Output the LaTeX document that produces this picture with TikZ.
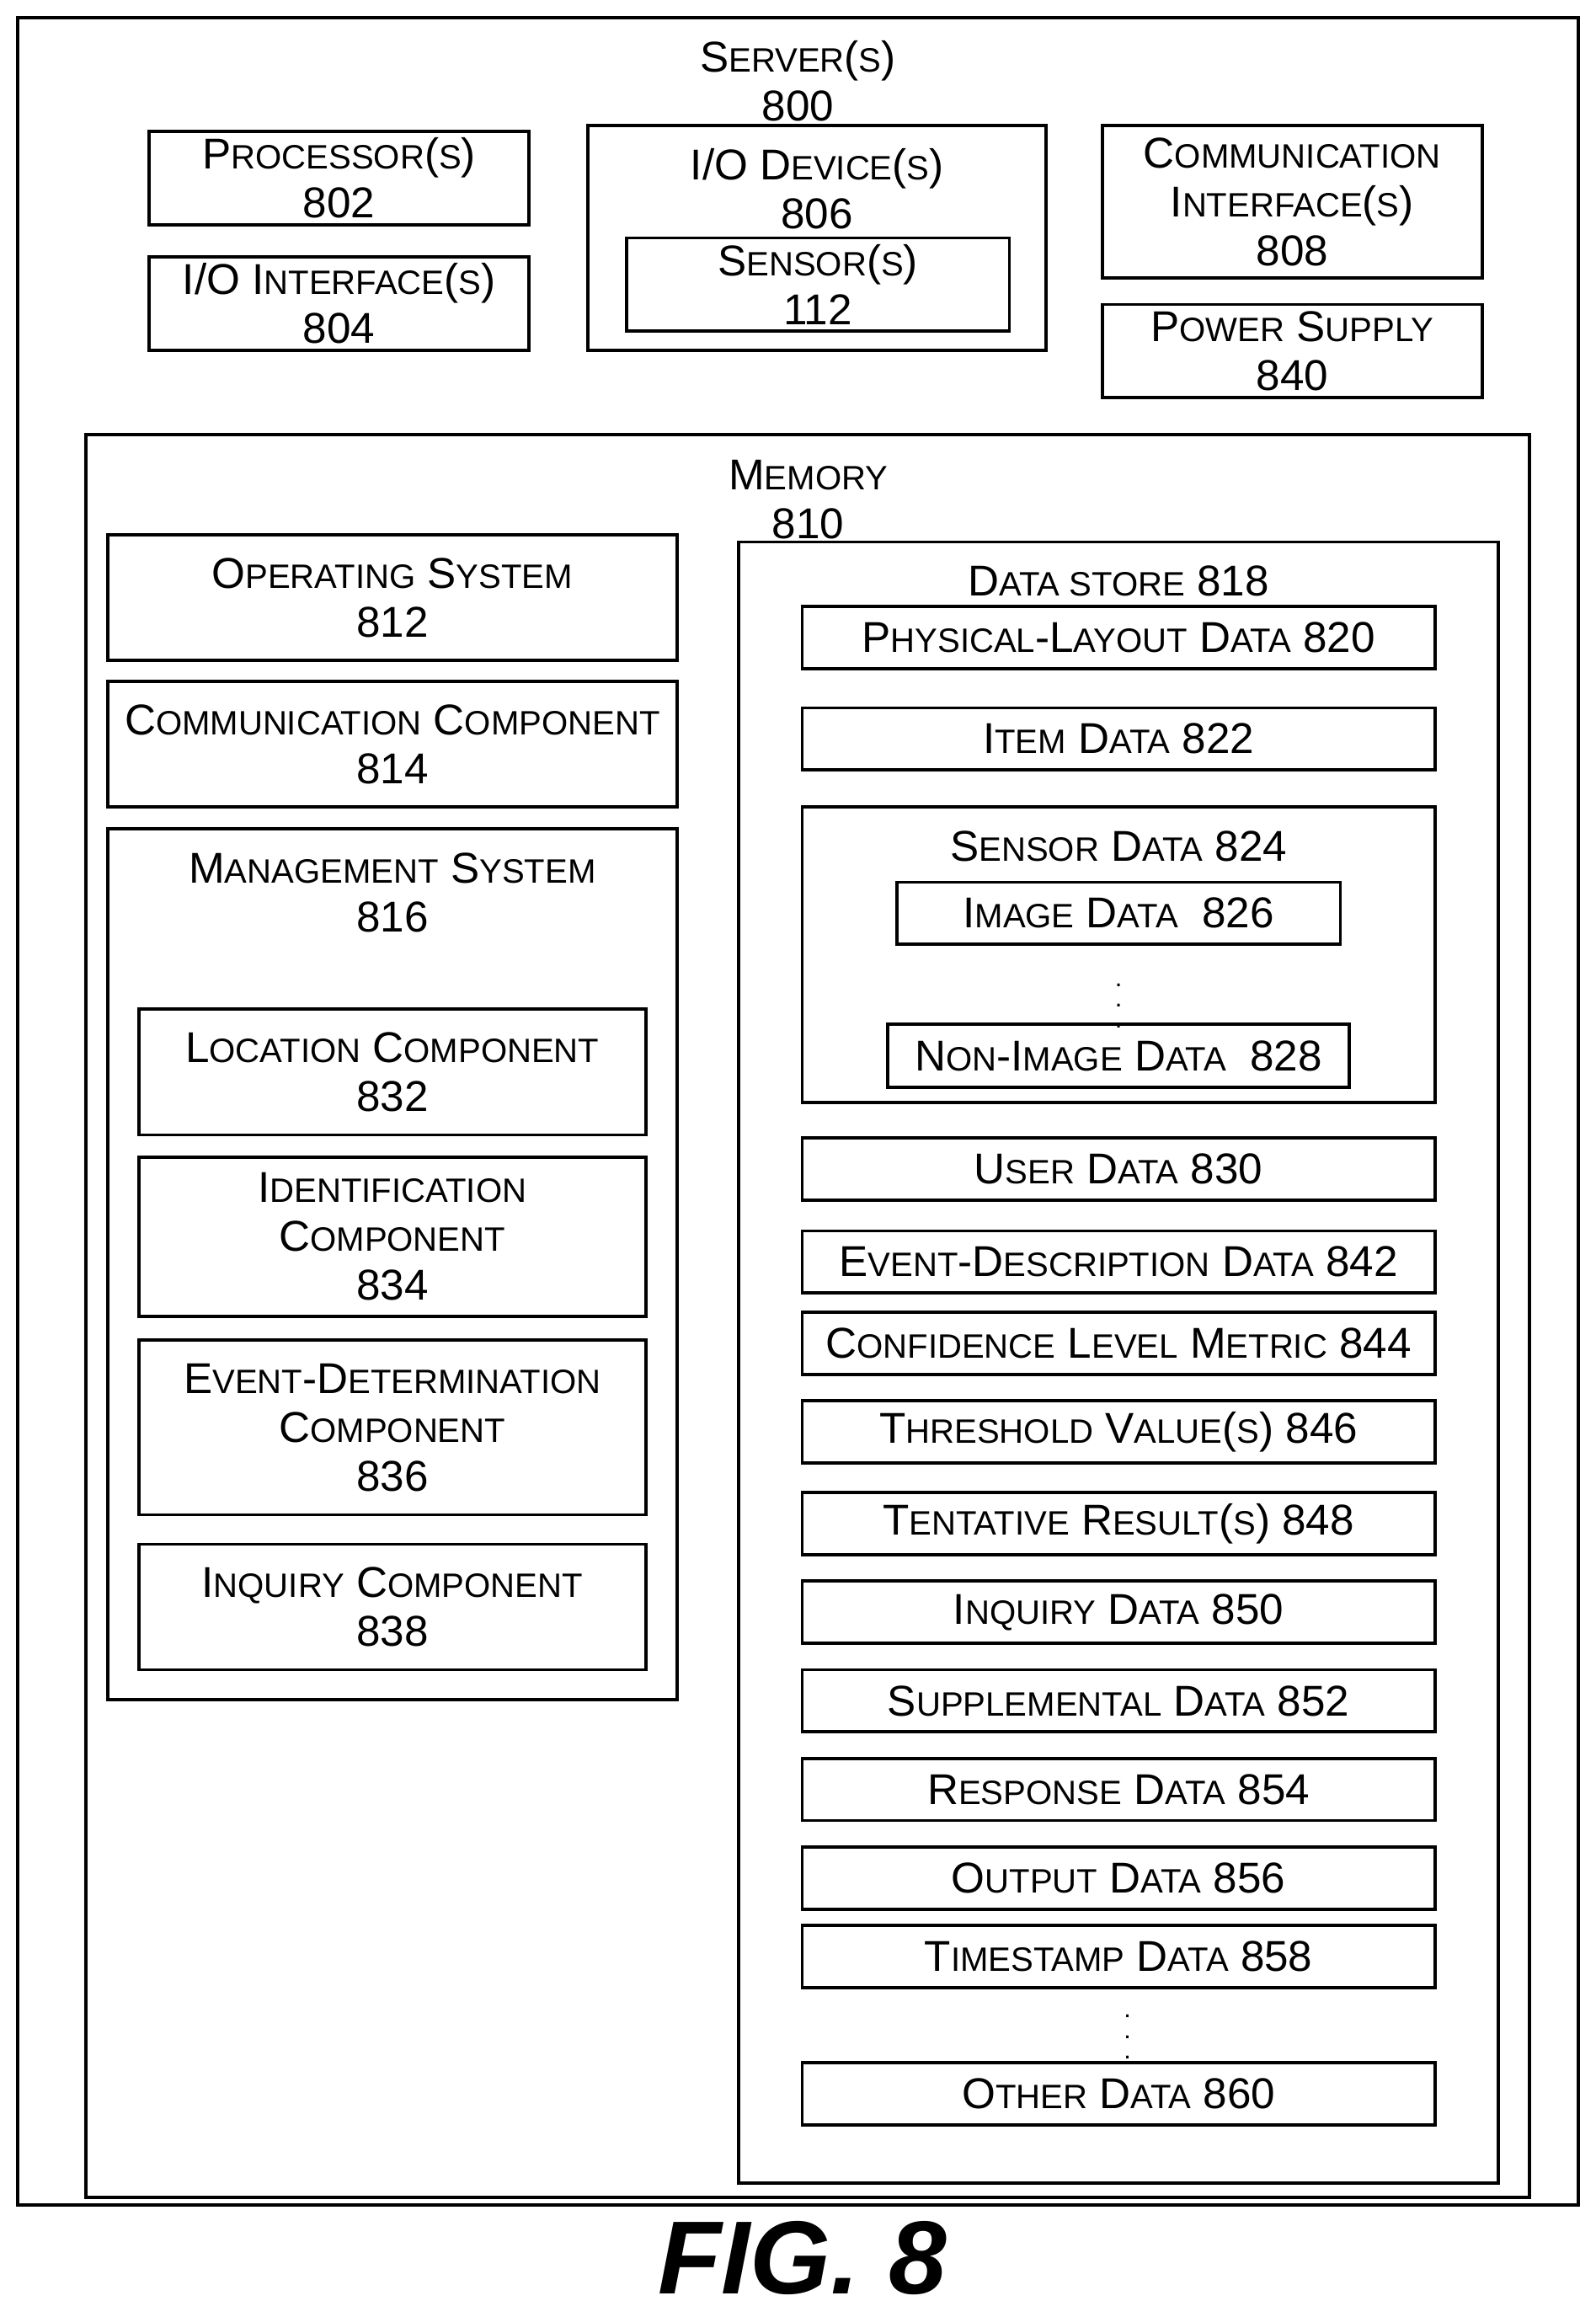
\documentclass[tikz,border=0pt]{standalone}
\usepackage{fontspec}
\setmainfont{Liberation Sans}
\usetikzlibrary{positioning}
\newcommand{\sm}[1]{{\fontsize{6.5}{9.4}\selectfont #1}}
\tikzset{
  box/.style={draw=black, line width=0.6pt, inner sep=0pt, align=center,
    font=\fontsize{8.3}{9.4}\selectfont},
  lbl/.style={inner sep=0pt, align=center, font=\fontsize{8.3}{9.4}\selectfont},
  dots/.style={inner sep=0pt, font=\fontsize{5}{5}\selectfont},
  dbox/.style={box, minimum width=4.28cm, minimum height=0.42cm}
}
\begin{document}
\begin{tikzpicture}[x=0.01cm, y=-0.01cm]
    \useasboundingbox (0,0) rectangle (1080,1568);
    %Server
    \draw[line width=0.6pt] (12,12) rectangle (1068,1492);
    \node[lbl] (server) at (540,55) {S\sm{ERVER}(\sm{S})\\800};
    \node[box, minimum width=2.57cm, minimum height=0.63cm] (proc) at (229.5,120.5) {P\sm{ROCESSOR}(\sm{S})\\802};
    \node[box, minimum width=2.57cm, minimum height=0.63cm] (ioif) at (229.5,205.5) {I/O I\sm{NTERFACE}(\sm{S})\\804};
    \node[box, minimum width=3.10cm, minimum height=1.52cm] (iodev) at (553,161) {};
    \node[lbl] (iodevl) at (553,128) {I/O D\sm{EVICE}(\sm{S})\\806};
    \node[box, minimum width=2.59cm, minimum height=0.63cm] (sensor) at (553.5,192.5) {S\sm{ENSOR}(\sm{S})\\112};
    \node[box, minimum width=2.57cm, minimum height=1.03cm] (commif) at (874.5,136.5) {C\sm{OMMUNICATION}\\I\sm{NTERFACE}(\sm{S})\\808};
    \node[box, minimum width=2.57cm, minimum height=0.63cm] (power) at (874.5,237.5) {P\sm{OWER} S\sm{UPPLY}\\840};
    %Memory
    \draw[line width=0.6pt] (58,294) rectangle (1035,1487);
    \node[lbl] (memory) at (547,338) {M\sm{EMORY}\\810};
    \node[box, minimum width=3.85cm, minimum height=0.85cm] (os) at (265.5,404.5) {O\sm{PERATING} S\sm{YSTEM}\\812};
    \node[box, minimum width=3.85cm, minimum height=0.85cm] (commc) at (265.5,503.5) {C\sm{OMMUNICATION} C\sm{OMPONENT}\\814};
    \node[box, minimum width=3.85cm, minimum height=5.89cm] (mgmt) at (265.5,855.5) {};
    \node[lbl] (mgmtl) at (265.5,604) {M\sm{ANAGEMENT} S\sm{YSTEM}\\816};
    \node[box, minimum width=3.43cm, minimum height=0.85cm] (loc) at (265.5,725.5) {L\sm{OCATION} C\sm{OMPONENT}\\832};
    \node[box, minimum width=3.43cm, minimum height=1.08cm] (ident) at (265.5,837) {I\sm{DENTIFICATION}\\C\sm{OMPONENT}\\834};
    \node[box, minimum width=3.43cm, minimum height=1.18cm] (event) at (265.5,966) {E\sm{VENT}-D\sm{ETERMINATION}\\C\sm{OMPONENT}\\836};
    \node[box, minimum width=3.43cm, minimum height=0.85cm] (inq) at (265.5,1087.5) {I\sm{NQUIRY} C\sm{OMPONENT}\\838};
    %Data store
    \node[box, minimum width=5.14cm, minimum height=11.10cm] (store) at (757,922) {};
    \node[lbl] (storel) at (757,393) {D\sm{ATA STORE} 818};
    \node[dbox] (phys) at (757,431.5) {P\sm{HYSICAL}-L\sm{AYOUT} D\sm{ATA} 820};
    \node[dbox] (item) at (757,500) {I\sm{TEM} D\sm{ATA} 822};
    \node[box, minimum width=4.28cm, minimum height=2.00cm] (sdata) at (757,646) {};
    \node[lbl] (sdatal) at (757,573) {S\sm{ENSOR} D\sm{ATA} 824};
    \node[box, minimum width=3.00cm, minimum height=0.42cm] (image) at (757,618) {I\sm{MAGE} D\sm{ATA}~~826};
    \node[dots] (dots1) at (757,670) {\vdots};
    \node[box, minimum width=3.12cm, minimum height=0.43cm] (nonimg) at (757,714.5) {N\sm{ON}-I\sm{MAGE} D\sm{ATA}~~828};
    \node[dbox] (user) at (757,791) {U\sm{SER} D\sm{ATA} 830};
    \node[dbox] (evdesc) at (757,854) {E\sm{VENT}-D\sm{ESCRIPTION} D\sm{ATA} 842};
    \node[dbox] (conf) at (757,909) {C\sm{ONFIDENCE} L\sm{EVEL} M\sm{ETRIC} 844};
    \node[dbox] (thresh) at (757,969) {T\sm{HRESHOLD} V\sm{ALUE}(\sm{S}) 846};
    \node[dbox] (tent) at (757,1031) {T\sm{ENTATIVE} R\sm{ESULT}(\sm{S}) 848};
    \node[dbox] (inqd) at (757,1091) {I\sm{NQUIRY} D\sm{ATA} 850};
    \node[dbox] (supp) at (757,1151) {S\sm{UPPLEMENTAL} D\sm{ATA} 852};
    \node[dbox] (resp) at (757,1211) {R\sm{ESPONSE} D\sm{ATA} 854};
    \node[dbox] (output) at (757,1271) {O\sm{UTPUT} D\sm{ATA} 856};
    \node[dbox] (tstamp) at (757,1324) {T\sm{IMESTAMP} D\sm{ATA} 858};
    \node[dots] (dots2) at (763,1368) {\vdots};
    \node[dbox] (other) at (757,1417) {O\sm{THER} D\sm{ATA} 860};
    %Caption
    \node[lbl, font=\fontsize{20}{22}\selectfont\bfseries\itshape] (fig) at (543,1528) {FIG. 8};
\end{tikzpicture}
\end{document}
